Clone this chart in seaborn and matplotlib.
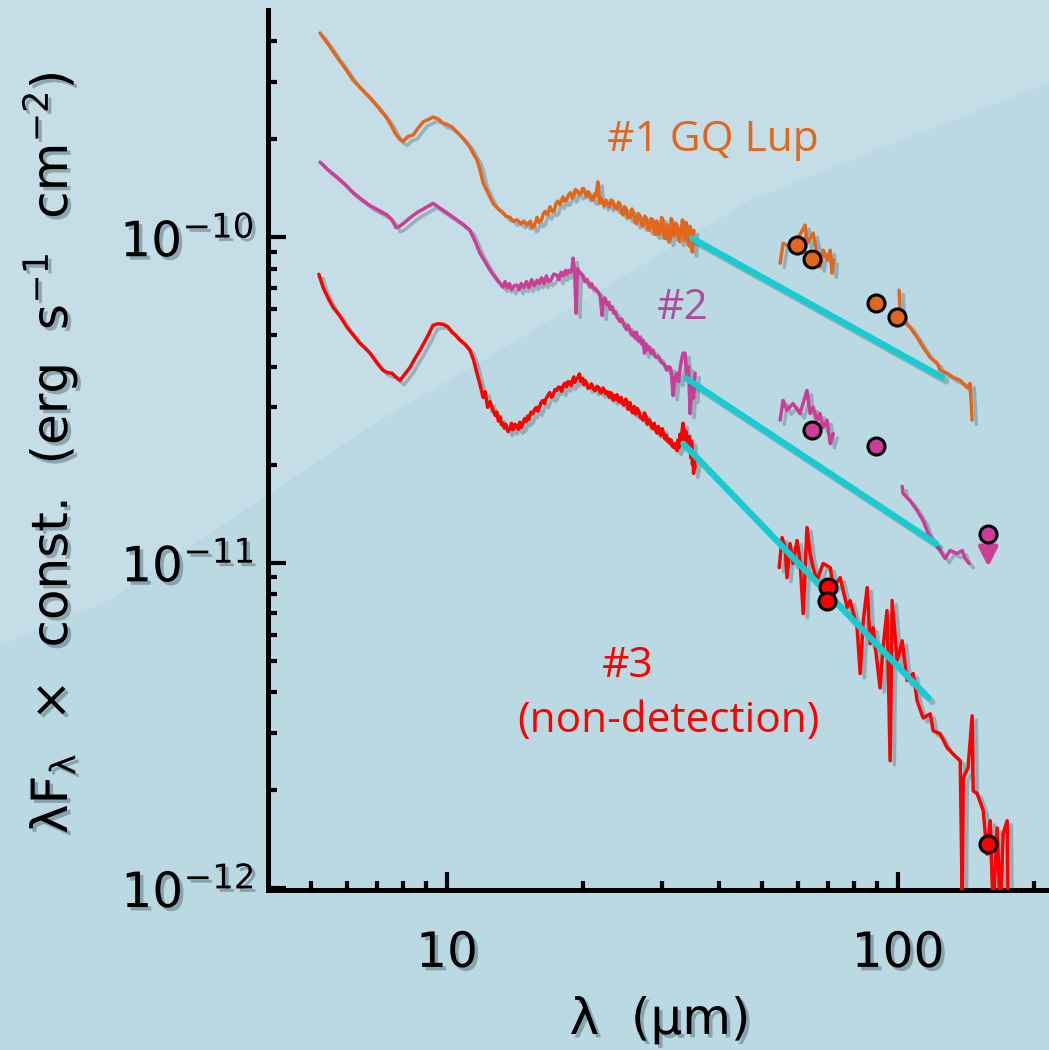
import numpy as np
import seaborn as sns
import matplotlib.pyplot as plt
import matplotlib.patheffects as pe
from matplotlib.patches import Polygon
from matplotlib.ticker import LogLocator, NullFormatter

# ---------------- data (wavelength in micron, lambda*F_lambda in 1e-10 erg/s/cm2) -------------
UNIT = 1e-10

gq_irs_wl = [5.23, 5.45, 5.70, 5.95, 6.19, 6.45, 6.75, 7.05, 7.36, 7.50, 7.67, 7.85, 7.99, 8.20, 8.41,
             8.60, 8.85, 9.10, 9.31, 9.55, 9.80, 10.0, 10.26, 10.45, 10.69, 10.95, 11.24, 11.45, 11.65,
             11.85, 12.02, 12.35, 12.65, 13.0, 13.31, 13.5, 13.8, 14.0, 14.29, 14.6, 14.8, 15.04, 15.3,
             15.45, 15.6, 15.83, 16.0, 16.2, 16.35, 16.5, 16.7, 16.92, 17.1, 17.3, 17.45, 17.6, 17.8,
             18.08, 18.2, 18.4, 18.6, 18.8, 18.95, 19.1, 19.25, 19.42, 19.6, 19.8, 19.95, 20.1, 20.25,
             20.4, 20.55, 20.75, 20.9, 21.1, 21.25, 21.4, 21.6, 21.8, 21.95, 22.1, 22.3, 22.5, 22.7, 22.9,
             23.1, 23.3, 23.55, 23.82, 24.0, 24.2, 24.4, 24.6, 24.8, 25.0, 25.2, 25.46, 25.7, 25.9, 26.1,
             26.3, 26.55, 26.8, 27.0, 27.2, 27.45, 27.7, 27.9, 28.1, 28.35, 28.6, 28.8, 29.0, 29.15, 29.3,
             29.5, 29.7, 29.9, 30.1, 30.3, 30.5, 30.7, 30.9, 31.05, 31.23, 31.4, 31.6, 31.8, 32.0, 32.2,
             32.4, 32.6, 32.8, 32.95, 33.1, 33.25, 33.4, 33.55, 33.7, 33.85, 34.0, 34.2, 34.4, 34.55,
             34.7, 34.85, 35.0, 35.2]
gq_irs_flux = [4.24, 3.92, 3.58, 3.30, 3.04, 2.86, 2.68, 2.50, 2.32, 2.22, 2.09, 2.00, 1.97, 2.04, 2.06,
               2.15, 2.26, 2.30, 2.34, 2.31, 2.24, 2.22, 2.18, 2.12, 2.06, 1.98, 1.89, 1.80, 1.73,
               1.60, 1.47, 1.36, 1.27, 1.22, 1.19, 1.16, 1.15, 1.12, 1.13, 1.10, 1.12, 1.09, 1.12,
               1.07, 1.08, 1.15, 1.11, 1.13, 1.18, 1.20, 1.17, 1.24, 1.20, 1.21, 1.27, 1.29, 1.26,
               1.33, 1.29, 1.30, 1.35, 1.37, 1.32, 1.34, 1.40, 1.39, 1.35, 1.36, 1.41, 1.41, 1.36,
               1.33, 1.38, 1.35, 1.31, 1.30, 1.36, 1.34, 1.48, 1.27, 1.32, 1.29, 1.25, 1.30, 1.27, 1.24,
               1.30, 1.29, 1.23, 1.22, 1.28, 1.26, 1.19, 1.17, 1.24, 1.21, 1.15, 1.15, 1.22, 1.19, 1.12,
               1.10, 1.18, 1.16, 1.09, 1.08, 1.16, 1.14, 1.06, 1.05, 1.14, 1.13, 1.03, 1.02, 1.12, 1.10,
               1.02, 1.04, 1.15, 1.13, 1.00, 0.99, 1.09, 1.06, 0.97, 0.98, 1.14, 1.12, 1.01, 1.02, 1.10,
               1.08, 0.98, 0.97, 1.06, 1.05, 1.13, 1.10, 0.98, 0.99, 1.11, 1.07, 0.96, 0.94, 1.08,
               1.04, 0.92, 0.90, 1.05]
gq_pacs1_wl = [54.75, 55.6, 57.6, 59.7, 62.2, 62.8, 64.8, 66.1, 67.1, 68.2, 69.6, 70.7, 71.4, 71.8]
gq_pacs1_flux = [0.832, 0.958, 0.932, 0.979, 1.089, 0.958, 1.029, 0.893, 0.809, 0.912, 0.850, 0.912, 0.775, 0.850]
gq_pacs2_wl = [100.5, 101.0, 102.6, 106.3, 110.2, 113.6, 117.8, 122.1, 123.9, 128.4, 132.4, 137.3, 142.2, 144.4, 145.9]
gq_pacs2_flux = [0.687, 0.596, 0.555, 0.529, 0.492, 0.459, 0.427, 0.410, 0.390, 0.382, 0.371, 0.363, 0.345, 0.355, 0.274]
gq_phot_wl = [59.7, 64.5, 89.4, 99.5]
gq_phot_flux = [0.945, 0.856, 0.627, 0.567]
gq_fit_wl = [34.9, 125.2]
gq_fit_flux = [0.993, 0.371]

s2_irs_wl = [5.23, 5.45, 5.70, 5.95, 6.19, 6.45, 6.75, 7.05, 7.36, 7.55, 7.71, 7.85, 7.99, 8.30, 8.58,
             8.95, 9.31, 9.55, 9.80, 10.15, 10.52, 10.9, 11.24, 11.55, 11.83, 12.15, 12.45, 12.9, 13.31,
             13.45, 13.6, 13.75, 13.9, 14.1, 14.29, 14.45, 14.6, 14.8, 15.0, 15.2, 15.4, 15.6, 15.83, 16.0,
             16.2, 16.4, 16.6, 16.8, 17.0, 17.25, 17.53, 17.7, 17.9, 18.1, 18.3, 18.45, 18.6, 18.8, 18.93,
             19.03, 19.2, 19.32, 19.45, 19.72, 20.0, 20.2, 20.45, 20.75, 20.9, 21.1, 21.35, 21.6, 21.85,
             22.07, 22.18, 22.4, 22.6, 22.8, 23.0, 23.2, 23.4, 23.6, 23.82, 24.0, 24.2, 24.4, 24.6, 24.8,
             25.0, 25.2, 25.46, 25.7, 25.9, 26.1, 26.3, 26.55, 26.8, 27.0, 27.2, 27.4, 27.6, 27.85, 28.1,
             28.35, 28.6, 28.9, 29.22, 29.45, 29.7, 29.95, 30.2, 30.45, 30.7, 30.95, 31.23, 31.45, 31.7,
             32.0, 32.36, 32.6, 32.9, 33.1, 33.37, 33.71, 34.06, 34.3, 34.58, 34.9, 35.2, 35.48]
s2_irs_flux = [1.70, 1.61, 1.53, 1.45, 1.37, 1.31, 1.25, 1.21, 1.17, 1.13, 1.07, 1.08, 1.10, 1.15, 1.19,
               1.23, 1.27, 1.24, 1.21, 1.17, 1.13, 1.09, 1.05, 0.97, 0.893, 0.84, 0.792, 0.74, 0.702,
               0.73, 0.70, 0.72, 0.69, 0.71, 0.712, 0.69, 0.72, 0.70, 0.73, 0.70, 0.74, 0.71, 0.737, 0.72,
               0.75, 0.72, 0.76, 0.73, 0.74, 0.77, 0.764, 0.74, 0.78, 0.76, 0.79, 0.77, 0.79, 0.78, 0.803,
               0.862, 0.76, 0.584, 0.80, 0.775, 0.76, 0.73, 0.74, 0.702, 0.72, 0.70, 0.69, 0.68, 0.66,
               0.575, 0.640, 0.65, 0.62, 0.63, 0.60, 0.61, 0.585, 0.59, 0.567, 0.56, 0.55, 0.56, 0.545, 0.53,
               0.52, 0.535, 0.518, 0.50, 0.51, 0.49, 0.51, 0.48, 0.49, 0.47, 0.482, 0.44, 0.47, 0.45, 0.46,
               0.44, 0.45, 0.43, 0.427, 0.43, 0.42, 0.41, 0.41, 0.40, 0.39, 0.40, 0.398, 0.38, 0.326,
               0.37, 0.382, 0.36, 0.40, 0.42, 0.44, 0.440, 0.363, 0.40, 0.287, 0.36, 0.32, 0.382]
s2_pacs1_wl = [54.75, 55.6, 56.7, 58.5, 60.6, 62.8, 63.8, 64.8, 66.1, 67.1, 68.2, 69.6, 70.7, 71.8]
s2_pacs1_flux = [0.274, 0.315, 0.294, 0.308, 0.287, 0.338, 0.287, 0.300, 0.274, 0.287, 0.260, 0.274, 0.232, 0.249]
s2_pacs2_wl = [102.1, 102.6, 106.3, 110.2, 113.6, 116.6, 120.8, 123.9, 127.1, 130.4, 135.1, 138.7, 140.8, 143.7]
s2_pacs2_flux = [0.1714, 0.163, 0.155, 0.1445, 0.1347, 0.1228, 0.1144, 0.1089, 0.1029, 0.1089, 0.1066, 0.1089, 0.1029, 0.0994]
s2_phot_wl = [64.5, 89.4]
s2_phot_flux = [0.256, 0.228]
s2_ulim_wl = [158.4]
s2_ulim_flux = [0.1228]
s2_ulim_arrow_to = [0.097]
s2_fit_wl = [33.9, 121.4]
s2_fit_flux = [0.368, 0.1144]

s3_irs_wl = [5.20, 5.31, 5.45, 5.59, 5.80, 6.00, 6.20, 6.41, 6.60, 6.75, 7.0, 7.21, 7.4, 7.55, 7.7, 7.87,
             8.05, 8.28, 8.5, 8.71, 9.03, 9.31, 9.55, 9.80, 10.05, 10.26, 10.45, 10.69, 10.95, 11.24, 11.45,
             11.65, 11.85, 12.02, 12.15, 12.3, 12.45, 12.65, 12.8, 12.9, 13.0, 13.1, 13.2, 13.31, 13.4, 13.5,
             13.65, 13.8, 13.9, 14.0, 14.15, 14.29, 14.4, 14.5, 14.6, 14.74, 14.85, 15.0, 15.1, 15.2, 15.35,
             15.51, 15.65, 15.8, 15.9, 16.0, 16.15, 16.33, 16.45, 16.6, 16.75, 16.9, 17.05, 17.2, 17.35,
             17.53, 17.65, 17.8, 17.95, 18.1, 18.25, 18.4, 18.55, 18.74, 18.85, 19.0, 19.1, 19.2, 19.35,
             19.52, 19.65, 19.8, 19.95, 20.1, 20.25, 20.4, 20.55, 20.75, 20.9, 21.0, 21.15, 21.3, 21.5,
             21.7, 21.85, 22.0, 22.18, 22.35, 22.5, 22.7, 22.9, 23.05, 23.2, 23.35, 23.5, 23.65, 23.82,
             23.95, 24.1, 24.3, 24.5, 24.7, 24.9, 25.05, 25.2, 25.3, 25.46, 25.6, 25.8, 26.0, 26.2, 26.4,
             26.6, 26.8, 27.0, 27.2, 27.4, 27.6, 27.8, 28.0, 28.2, 28.4, 28.6, 28.8, 29.0, 29.22, 29.4,
             29.6, 29.8, 30.0, 30.2, 30.4, 30.6, 30.8, 31.0, 31.23, 31.4, 31.6, 31.8, 32.0, 32.2, 32.36,
             32.5, 32.7, 32.85, 33.0, 33.2, 33.37, 33.5, 33.6, 33.75, 33.9, 34.05, 34.2, 34.4, 34.58, 34.7,
             34.8, 34.9, 35.0, 35.1, 35.2, 35.35, 35.48]
s3_irs_flux = [0.769, 0.702, 0.65, 0.609, 0.57, 0.529, 0.50, 0.472, 0.455, 0.440, 0.41, 0.390, 0.383, 0.382, 0.372, 0.363,
               0.378, 0.398, 0.425, 0.449, 0.492, 0.536, 0.542, 0.540, 0.530, 0.510, 0.50, 0.482, 0.47, 0.449, 0.42,
               0.382, 0.35, 0.322, 0.335, 0.30, 0.312, 0.294, 0.283, 0.29, 0.272, 0.28, 0.265, 0.268, 0.259, 0.266,
               0.253, 0.258, 0.268, 0.256, 0.266, 0.262, 0.257, 0.270, 0.260, 0.268, 0.277, 0.272, 0.282, 0.276, 0.290,
               0.287, 0.296, 0.300, 0.292, 0.298, 0.310, 0.315, 0.308, 0.320, 0.327, 0.333, 0.322, 0.328, 0.340,
               0.338, 0.346, 0.345, 0.336, 0.350, 0.356, 0.347, 0.360, 0.358, 0.350, 0.365, 0.372, 0.358, 0.367,
               0.371, 0.380, 0.360, 0.368, 0.352, 0.362, 0.356, 0.344, 0.345, 0.354, 0.350, 0.340, 0.338, 0.348,
               0.345, 0.334, 0.332, 0.344, 0.338, 0.330, 0.335, 0.322, 0.333, 0.330, 0.316, 0.326, 0.318, 0.328,
               0.315, 0.312, 0.322, 0.308, 0.305, 0.318, 0.312, 0.296, 0.298, 0.310, 0.294, 0.289, 0.302, 0.286, 0.298,
               0.292, 0.280, 0.278, 0.274, 0.288, 0.282, 0.266, 0.275, 0.272, 0.261, 0.258, 0.268, 0.255, 0.250, 0.262,
               0.252, 0.246, 0.258, 0.250, 0.240, 0.246, 0.236, 0.240, 0.232, 0.238, 0.228, 0.226, 0.232, 0.224, 0.221,
               0.238, 0.226, 0.248, 0.232, 0.255, 0.268, 0.240, 0.256, 0.236, 0.252, 0.232, 0.226, 0.244, 0.226, 0.210,
               0.236, 0.230, 0.200, 0.214, 0.188, 0.205, 0.196]
s3_pacs_wl = [54.5, 55.3, 56.2, 56.7, 57.6, 58.5, 59.7, 60.6, 61.6, 62.8, 63.8, 64.8, 66.1, 68.2, 70.7, 71.8,
              74.4, 77.1, 78.3, 81.1, 82.4, 83.7, 85.4, 86.7, 88.0, 91.2, 92.6, 94.5, 96.0, 97.0, 99.5,
              102.1, 104.7, 108.0, 110.2, 113.6, 117.8, 119.6, 123.9, 128.4, 132.4, 137.3, 138.7, 139.4,
              142.9, 145.9, 146.7, 149.7, 154.4, 157.5, 160.0, 162.4, 165.8, 168.4, 171.0, 174.5, 175.4]
s3_pacs_flux = [0.0965, 0.1194, 0.1112, 0.0899, 0.1144, 0.0994, 0.1169, 0.1014, 0.0697, 0.1281, 0.1066, 0.0965, 0.0880, 0.0994, 0.0965, 0.0838,
                0.0899, 0.0727, 0.0764, 0.0631, 0.0456, 0.0663, 0.0838, 0.0563, 0.0631, 0.0412, 0.0548, 0.0712, 0.0246, 0.0764, 0.0500,
                0.0575, 0.0434, 0.0456, 0.0376, 0.0333, 0.0343, 0.0304, 0.0298, 0.0270, 0.0258, 0.0246, 0.0092, 0.0218,
                0.0234, 0.0338, 0.0199, 0.0195, 0.0173, 0.0127, 0.0161, 0.0085, 0.0153, 0.0085, 0.0147, 0.0161, 0.0085]
s3_phot_wl = [69.9, 69.6, 158.4]
s3_phot_flux = [0.0844, 0.0764, 0.01365]
s3_fit_wl = [33.4, 116.6]
s3_fit_flux = [0.232, 0.0384]

x_major = [10, 100]
x_major_labels = ['10', '100']
y_major = [1e-12, 1e-11, 1e-10]

labels = ['#1 GQ Lup', '#2', '#3', '(non-detection)']

ORANGE = '#E2661B'
MAGENTA = '#CC3D98'
MAGENTA_TXT = '#B04C9E'
RED = '#FF0000'
CYAN = '#16CCD2'

# ---------------- figure ----------------
sns.set_theme(style='ticks')
plt.rcParams['font.family'] = ['DejaVu Sans']
plt.rcParams['mathtext.fontset'] = 'dejavusans'

W, H = 1049, 1050
fig = plt.figure(figsize=(W / 100, H / 100), dpi=100)
fig.patch.set_facecolor('#BAD9E2')
arc_px = [(0, 645), (110, 600), (380, 420), (450, 380), (750, 200), (1049, 83), (1049, 0), (0, 0)]
fig.add_artist(Polygon([(x / W, 1 - y / H) for x, y in arc_px], closed=True,
                       transform=fig.transFigure, facecolor='#C4DDE7', edgecolor='none', zorder=-5))

ax = fig.add_axes([268 / W, 160 / H, (W - 268) / W, 880 / H])
ax.set_facecolor('none')
ax.set_xscale('log')
ax.set_yscale('log')

line_fx = [pe.SimpleLineShadow(offset=(3, -3), shadow_color='#23404a', alpha=0.28), pe.Normal()]
txt_fx = [pe.withSimplePatchShadow(offset=(2.5, -2.5), shadow_rgbFace='#23404a', alpha=0.35)]


def spec(wl, fl, color, lw=2.5, z=3):
    sns.lineplot(x=np.array(wl), y=np.array(fl) * UNIT, ax=ax, color=color, linewidth=lw,
                 sort=False, estimator=None, zorder=z, path_effects=line_fx)


def phot(wl, fl, color):
    sns.scatterplot(x=np.array(wl), y=np.array(fl) * UNIT, ax=ax, color=color, edgecolor='black',
                    linewidth=2.2, s=150, zorder=6)


# series 1
spec(gq_irs_wl, gq_irs_flux, ORANGE)
spec(gq_pacs1_wl, gq_pacs1_flux, ORANGE)
spec(gq_pacs2_wl, gq_pacs2_flux, ORANGE)
spec(gq_fit_wl, gq_fit_flux, CYAN, lw=4.5, z=4)
phot(gq_phot_wl, gq_phot_flux, ORANGE)
# series 2
spec(s2_irs_wl, s2_irs_flux, MAGENTA)
spec(s2_pacs1_wl, s2_pacs1_flux, MAGENTA)
spec(s2_pacs2_wl, s2_pacs2_flux, MAGENTA)
spec(s2_fit_wl, s2_fit_flux, CYAN, lw=4.5, z=4)
ax.annotate('', xy=(s2_ulim_wl[0], s2_ulim_arrow_to[0] * UNIT),
            xytext=(s2_ulim_wl[0], s2_ulim_flux[0] * UNIT),
            arrowprops=dict(arrowstyle='-|>', color=MAGENTA, lw=3.5, mutation_scale=28,
                            shrinkA=0, shrinkB=0), zorder=5)
phot(s2_phot_wl, s2_phot_flux, MAGENTA)
phot(s2_ulim_wl, s2_ulim_flux, MAGENTA)
# series 3
spec(s3_irs_wl, s3_irs_flux, RED)
spec(s3_pacs_wl, s3_pacs_flux, RED)
spec(s3_fit_wl, s3_fit_flux, CYAN, lw=4.5, z=4)
phot(s3_phot_wl, s3_phot_flux, RED)

ax.set_xlim(4.01, 216)
ax.set_ylim(0.986e-12, 4.99e-10)
ax.set_xlabel('')
ax.set_ylabel('')

ax.set_xticks(x_major)
ax.set_xticklabels(x_major_labels)
ax.xaxis.set_minor_locator(LogLocator(base=10, subs=np.arange(2, 10)))
ax.xaxis.set_minor_formatter(NullFormatter())
ax.set_yticks(y_major)
ax.yaxis.set_minor_locator(LogLocator(base=10, subs=np.arange(2, 10)))
ax.yaxis.set_minor_formatter(NullFormatter())

ax.tick_params(which='both', direction='in', top=False, right=False, width=3, color='black',
               labelsize=35, labelcolor='black')
ax.tick_params(which='major', length=13)
ax.tick_params(which='minor', length=6.5)
ax.tick_params(axis='x', pad=28)
ax.tick_params(axis='y', pad=10)
for side in ['top', 'right']:
    ax.spines[side].set_visible(False)
for side in ['left', 'bottom']:
    ax.spines[side].set_linewidth(3.6)
    ax.spines[side].set_color('black')
    ax.spines[side].set_path_effects(txt_fx)
for lab in ax.get_xticklabels() + ax.get_yticklabels():
    lab.set_path_effects(txt_fx)

ann = dict(ha='center', va='center', family=['Open Sans', 'DejaVu Sans'], fontsize=30.5, zorder=7)
ax.text(38.9, 1.99 * UNIT, labels[0], color=ORANGE, **ann)
ax.text(33.4, 0.605 * UNIT, labels[1], color=MAGENTA_TXT, **ann)
ax.text(25.2, 0.0482 * UNIT, labels[2], color=RED, **ann)
ax.text(30.9, 0.0326 * UNIT, labels[3], color=RED, **ann)

fig.text(660 / W, 1 - 1020 / H, 'λ  (μm)', ha='center', va='center', fontsize=36,
         color='black', path_effects=txt_fx)
fig.text(50 / W, 1 - 453 / H,
         r'λF$_{\mathregular{λ}}$  ×  const.  (erg  s$^{\mathregular{-1}}$  cm$^{\mathregular{-2}}$)',
         rotation=90, ha='center', va='center', fontsize=36, color='black', path_effects=txt_fx)

fig.savefig('out.png', dpi=100, facecolor=fig.get_facecolor())
